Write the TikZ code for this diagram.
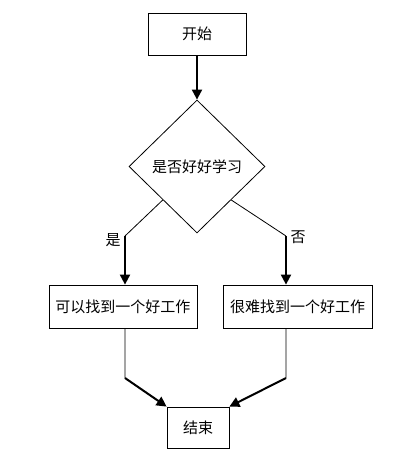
\documentclass[tikz,border=0pt]{standalone}
\usepackage{fontspec}
\usetikzlibrary{shapes.geometric,arrows.meta}
\newfontfamily\cjk{Noto Sans CJK SC}

\begin{document}
\begin{tikzpicture}[x=1pt,y=-1pt,
    every node/.style={font=\cjk\fontsize{15}{18}\selectfont,inner sep=0pt},
    box/.style={draw,line width=0.8pt},
    thin line/.style={line width=0.8pt},
    thick arrow/.style={line width=2pt,-{Triangle[length=10pt,width=10pt]}}]
      \useasboundingbox (0,0) rectangle (406,456);
      \draw
        (197,34) node[box,minimum width=98pt,minimum height=42pt] (start) {开始}
        (197,166.5) node[box,diamond,minimum width=136pt,minimum height=133pt] (decide) {是否好好学习};
      \draw
        (123,306.5) node[box,minimum width=148pt,minimum height=43pt] (good) {可以找到一个好工作}
        (297.5,306.5) node[box,minimum width=149pt,minimum height=43pt] (hard) {很难找到一个好工作}
        (198,427.5) node[box,minimum width=62pt,minimum height=41pt] (stop) {结束};
      \coordinate (yesbend) at (125,236);
      \coordinate (nobend) at (286,236);
      \coordinate (goodbend) at (125,378);
      \coordinate (hardbend) at (286,378);
      \draw[thick arrow] (start) -- (decide);
      \draw[thin line]
        (decide.south west) -- (yesbend)
        (decide.south east) -- (nobend)
        (yesbend |- good.south) -- (goodbend)
        (hardbend |- hard.south) -- (hardbend);
      \draw[thick arrow] (yesbend) -- (yesbend |- good.north);
      \draw[thick arrow] (nobend) -- (nobend |- hard.north);
      \draw[thick arrow] (goodbend) -- (stop.north west);
      \draw[thick arrow] (hardbend) -- (stop.north east);
      \draw
        (113,240) node (yes) {是}
        (298,237) node (no) {否};
    \end{tikzpicture}
\end{document}
